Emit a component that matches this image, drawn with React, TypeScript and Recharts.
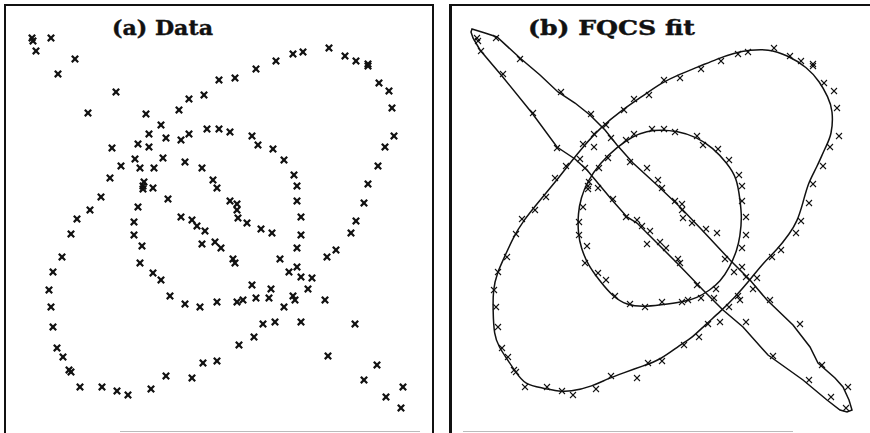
import { ScatterChart, Scatter, XAxis, YAxis } from 'recharts';

type Pt = { x: number; y: number };
const toPts = (pairs: number[][]): Pt[] => pairs.map(([x, y]) => ({ x, y }));

// sample points (x right, y down), grouped by the shell they belong to
const outerPts = toPts([
  [179, 110], [189, 99], [204, 95], [219, 80], [235, 78], [256, 69], [276, 61], [293, 54],
  [303, 52], [329, 48], [345, 56], [356, 61], [368, 64], [368, 66], [379, 83], [389, 91],
  [392, 108], [394, 136], [385, 147], [378, 166], [368, 184], [364, 203], [356, 221], [351, 233],
  [336, 250], [327, 257], [308, 289], [293, 296], [295, 300], [284, 307], [275, 322], [263, 324],
  [254, 337], [239, 345], [217, 361], [203, 363], [192, 378], [166, 376], [151, 389], [128, 395],
  [117, 391], [102, 387], [80, 387], [71, 372], [69, 370], [63, 357], [57, 348], [53, 327],
  [51, 307], [49, 290], [53, 272], [62, 257], [71, 234], [77, 219], [90, 210], [101, 197],
  [110, 178], [121, 166], [138, 144], [149, 134], [161, 125],
]);

const innerPts = toPts([
  [181, 140], [189, 134], [207, 129], [219, 129], [230, 132], [252, 136], [258, 145], [273, 149],
  [284, 160], [294, 175], [297, 186], [297, 201], [301, 217], [301, 235], [297, 248], [256, 298],
  [243, 300], [237, 302], [217, 302], [200, 307], [185, 304], [170, 296], [161, 280], [153, 273],
  [140, 263], [142, 246], [134, 235], [134, 222], [138, 207], [144, 182], [154, 168], [149, 147],
]);

const bandPts = toPts([
  [32, 38], [33, 41], [51, 38], [36, 51], [75, 59], [58, 74], [116, 92], [88, 113],
  [146, 114], [112, 148], [166, 138], [135, 159], [140, 168], [163, 158], [185, 162], [202, 168],
  [143, 186], [143, 189], [153, 188], [213, 180], [217, 188], [168, 199], [230, 201], [237, 204],
  [237, 210], [181, 217], [192, 220], [197, 226], [205, 231], [202, 244], [215, 242], [221, 248],
  [233, 259], [235, 263], [238, 218], [247, 223], [261, 229], [272, 233], [280, 259], [289, 272],
  [297, 267], [301, 277], [312, 278], [252, 285], [271, 289], [269, 298], [325, 300], [301, 322],
  [328, 356], [355, 324], [377, 365], [364, 380], [386, 397], [403, 387], [401, 408],
]);

// fitted quadric shells, traced as closed outlines
const outerFit = toPts([
  [323, 49], [342, 55], [362, 67], [375, 82], [383, 97], [388, 110], [387, 135], [380, 148],
  [372, 167], [363, 183], [358, 203], [352, 222], [345, 233], [332, 250], [318, 263], [305, 280],
  [290, 297], [275, 312], [260, 325], [248, 337], [235, 345], [215, 360], [198, 366], [178, 373],
  [162, 379], [148, 386], [125, 392], [112, 391], [98, 388], [80, 385], [70, 371], [62, 359],
  [54, 347], [49, 335], [48, 310], [48, 290], [52, 273], [60, 256], [68, 238], [78, 221],
  [96, 199], [112, 180], [125, 163], [138, 147], [155, 128], [177, 110], [198, 96], [216, 83],
  [235, 74], [253, 67], [272, 59], [289, 53], [305, 50],
]);

const innerFit = toPts([
  [215, 130], [232, 131], [252, 137], [268, 148], [282, 163], [292, 178], [295, 200], [297, 217],
  [295, 237], [292, 250], [285, 267], [275, 282], [265, 290], [252, 298], [238, 302], [215, 305],
  [198, 307], [182, 305], [168, 297], [154, 280], [143, 265], [136, 248], [133, 233], [133, 213],
  [136, 198], [142, 182], [155, 163], [172, 147], [188, 136], [202, 131],
]);

const bandFit = toPts([
  [27, 29], [40, 33], [52, 37], [75, 58], [95, 75], [113, 92], [130, 103], [145, 115],
  [160, 130], [172, 145], [188, 163], [212, 185], [235, 207], [257, 230], [285, 260], [305, 280],
  [322, 300], [348, 325], [365, 347], [373, 363], [390, 378], [398, 387], [404, 400], [407, 410],
  [402, 412], [395, 410], [382, 400], [358, 380], [323, 355], [298, 327], [278, 310], [258, 290],
  [232, 263], [212, 243], [192, 223], [182, 217], [167, 200], [142, 170], [130, 159], [112, 147],
  [87, 113], [57, 76], [35, 50], [28, 38], [26, 32],
]);

const titles = ['(a) Data', '(b) FQCS fit'];

const W = 435;
const H = 433;
const INK = '#111';

function Cross({ cx, cy, r, w }: { cx: number; cy: number; r: number; w: number }) {
  return (
    <g stroke={INK} strokeWidth={w} strokeLinecap="square">
      <line x1={cx - r} y1={cy - r} x2={cx + r} y2={cy + r} />
      <line x1={cx - r} y1={cy + r} x2={cx + r} y2={cy - r} />
    </g>
  );
}

function Panel({ withFit }: { withFit: boolean }) {
  const r = withFit ? 2.6 : 2.4;
  const w = withFit ? 1.1 : 2.2;
  const marker = (p: any) => <Cross cx={p.cx} cy={p.cy} r={r} w={w} />;
  const fitLine = { stroke: INK, strokeWidth: 1.5 };
  return (
    <ScatterChart width={W} height={H} margin={{ top: 0, right: 0, bottom: 0, left: 0 }}>
      <XAxis type="number" dataKey="x" domain={[0, W]} hide allowDataOverflow />
      <YAxis type="number" dataKey="y" domain={[0, H]} reversed hide allowDataOverflow />
      {withFit && (
        <Scatter data={outerFit} shape={() => <g />} line={fitLine} lineJointType="basisClosed" isAnimationActive={false} />
      )}
      {withFit && (
        <Scatter data={innerFit} shape={() => <g />} line={fitLine} lineJointType="basisClosed" isAnimationActive={false} />
      )}
      {withFit && (
        <Scatter data={bandFit} shape={() => <g />} line={fitLine} lineJointType="linearClosed" isAnimationActive={false} />
      )}
      <Scatter data={outerPts} shape={marker} isAnimationActive={false} />
      <Scatter data={innerPts} shape={marker} isAnimationActive={false} />
      <Scatter data={bandPts} shape={marker} isAnimationActive={false} />
    </ScatterChart>
  );
}

const rule = (style: React.CSSProperties) => (
  <div style={{ position: 'absolute', background: '#111', ...style }} />
);

export default function App() {
  return (
    <div style={{ position: 'absolute', left: 0, top: 0, width: 870, height: 433, background: '#fff', overflow: 'hidden' }}>
      <div style={{ position: 'absolute', left: 0, top: 0 }}>
        <Panel withFit={false} />
      </div>
      <div style={{ position: 'absolute', left: 445, top: 0 }}>
        <Panel withFit />
      </div>

      {/* panel frames */}
      {rule({ left: 4, top: 4, width: 430, height: 2 })}
      {rule({ left: 4, top: 4, width: 2, height: 429 })}
      {rule({ left: 432, top: 4, width: 2, height: 429 })}
      {rule({ left: 449, top: 4, width: 421, height: 2 })}
      {rule({ left: 449, top: 4, width: 3, height: 429 })}
      <div style={{ position: 'absolute', left: 120, top: 431, width: 300, height: 1, background: '#bbb' }} />
      <div style={{ position: 'absolute', left: 463, top: 431, width: 330, height: 1, background: '#bbb' }} />

      <svg width={870} height={433} style={{ position: 'absolute', left: 0, top: 0 }}>
        <text x={112} y={35} fontFamily="'DejaVu Serif', serif" fontWeight="bold" fontSize={20}
          textLength={101} lengthAdjust="spacingAndGlyphs" fill={INK} stroke={INK} strokeWidth={0.4}>{titles[0]}</text>
        <text x={528} y={35} fontFamily="'DejaVu Serif', serif" fontWeight="bold" fontSize={20}
          textLength={167} lengthAdjust="spacingAndGlyphs" fill={INK} stroke={INK} strokeWidth={0.4}>{titles[1]}</text>
      </svg>
    </div>
  );
}
